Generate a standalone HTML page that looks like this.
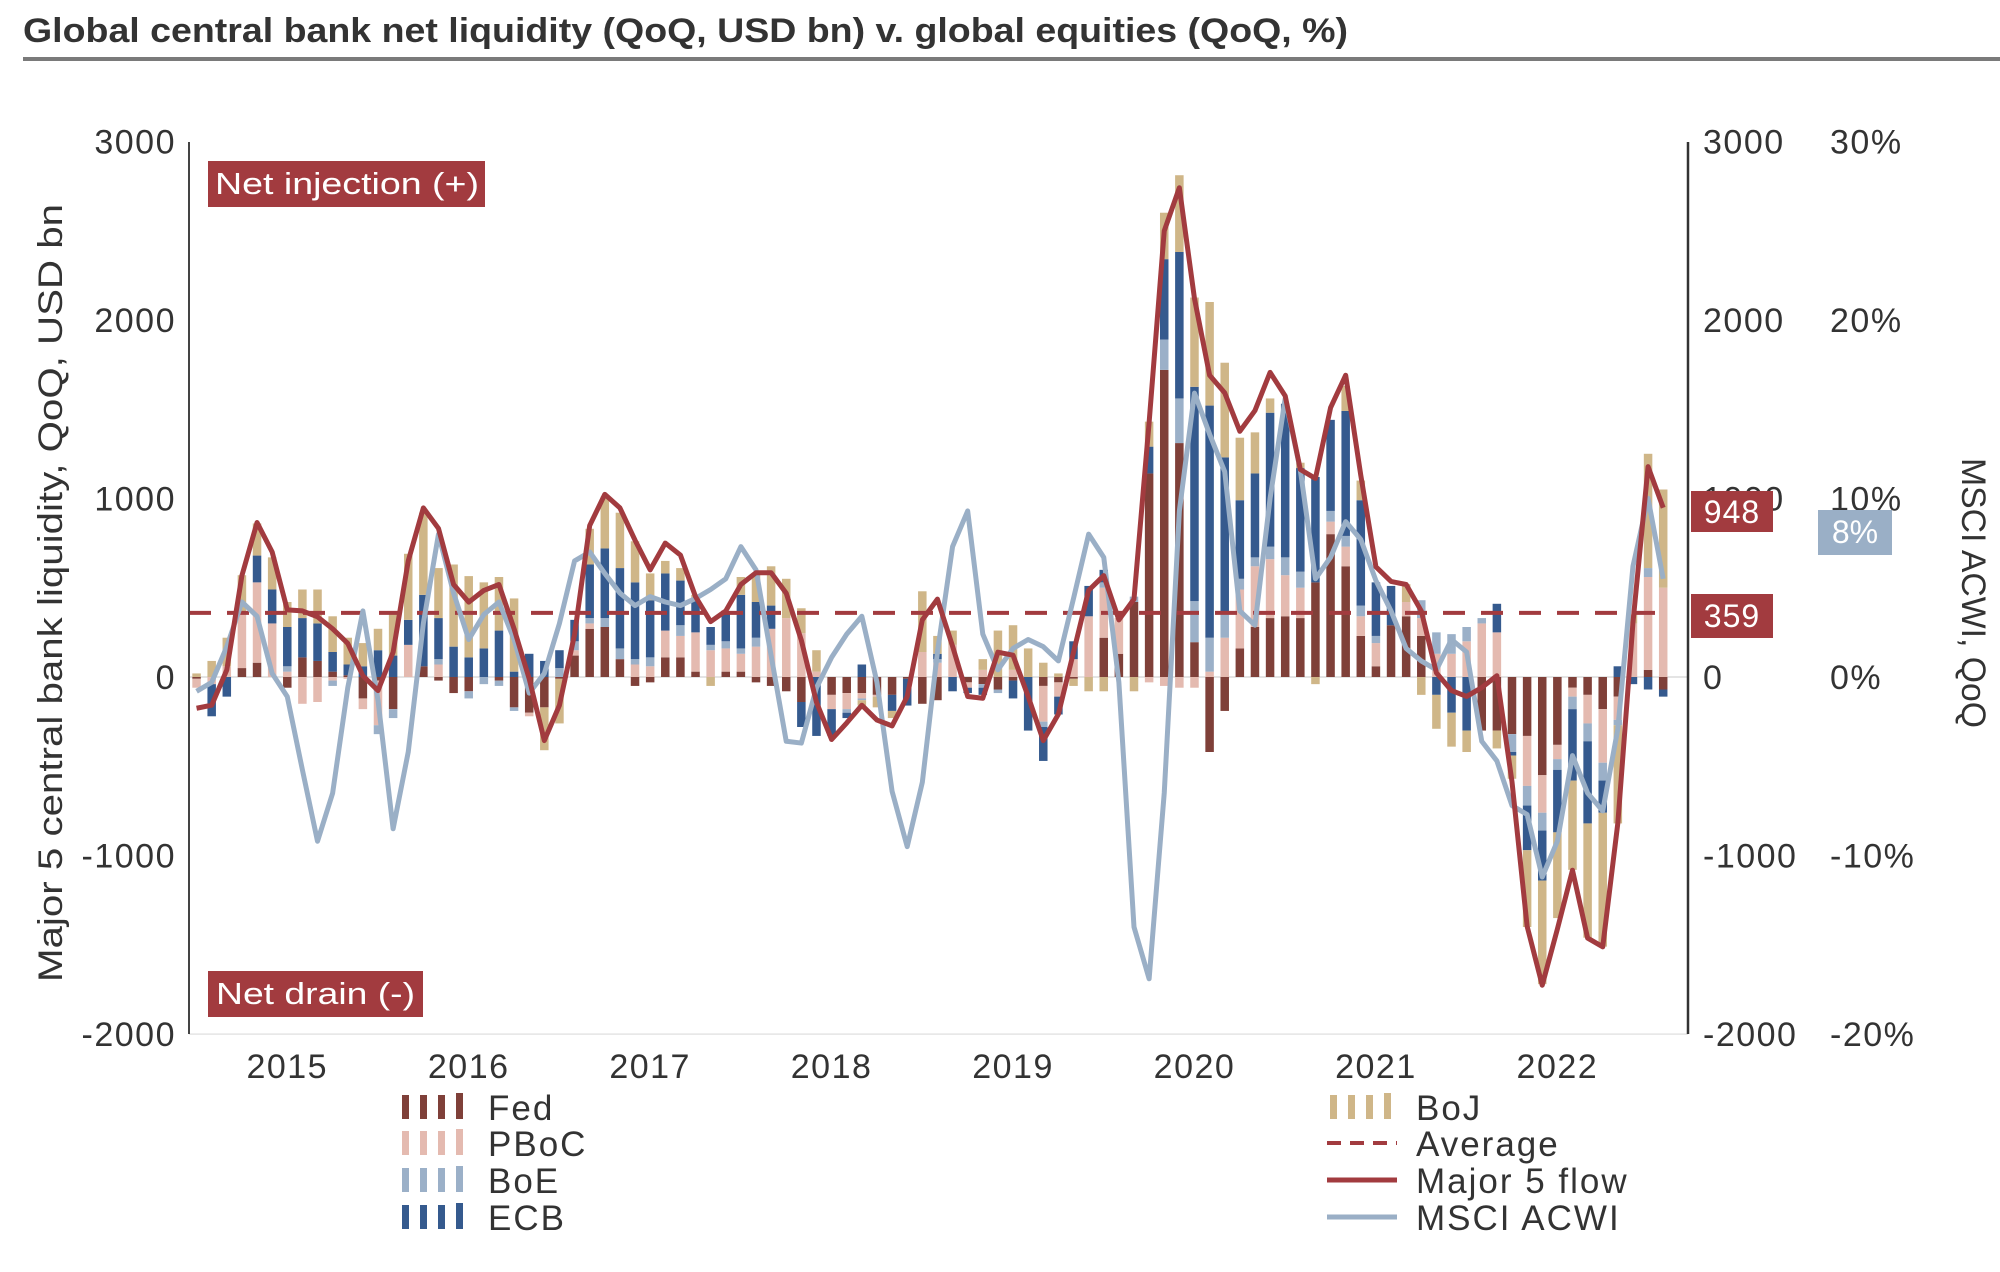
<!DOCTYPE html>
<html><head><meta charset="utf-8"><style>
html,body{margin:0;padding:0;background:#fff;}
svg{display:block;font-family:"Liberation Sans",sans-serif;}
</style></head><body>
<svg id="chart" width="2000" height="1272" viewBox="0 0 2000 1272" xmlns="http://www.w3.org/2000/svg">
<text x="23" y="42" font-size="34" font-weight="bold" fill="#333" textLength="1325" lengthAdjust="spacingAndGlyphs">Global central bank net liquidity (QoQ, USD bn) v. global equities (QoQ, %)</text>
<rect x="23" y="57" width="1977" height="4" fill="#7a7a7a"/>
<g id="plot"></g>
<text transform="translate(62,593) rotate(-90)" text-anchor="middle" font-size="34" fill="#333" textLength="778" lengthAdjust="spacingAndGlyphs">Major 5 central bank liquidity, QoQ, USD bn</text>
<text transform="translate(1962,593) rotate(90)" text-anchor="middle" font-size="34" fill="#333" textLength="270" lengthAdjust="spacingAndGlyphs">MSCI ACWI, QoQ</text>
<rect x="208" y="161" width="277" height="46" fill="#a23b3f"/>
<text x="215" y="194" font-size="31" fill="#fff" textLength="264" lengthAdjust="spacingAndGlyphs">Net injection (+)</text>
<rect x="208" y="971" width="215" height="46" fill="#a23b3f"/>
<text x="216" y="1004" font-size="31" fill="#fff" textLength="199" lengthAdjust="spacingAndGlyphs">Net drain (-)</text>
<rect x="1691" y="491" width="82" height="41" fill="#a23b3f"/>
<text x="1732" y="523" text-anchor="middle" font-size="32" fill="#fff" letter-spacing="1">948</text>
<rect x="1691" y="594" width="82" height="44" fill="#a23b3f"/>
<text x="1732" y="627" text-anchor="middle" font-size="32" fill="#fff" letter-spacing="1">359</text>
<rect x="1818" y="510" width="74" height="45" fill="#9aafc6"/>
<text x="1855" y="543" text-anchor="middle" font-size="32" fill="#fff">8%</text>
<g id="legend"></g>
</svg>
<script>
const fed = [-10,0,0,50,80,0,-60,110,90,30,10,-120,-20,-180,0,60,-20,-90,-80,0,-20,-170,-200,-170,-10,120,270,280,100,-50,-30,110,110,30,0,30,30,-30,-50,-80,-140,0,-100,-90,-90,-100,-100,-10,-150,-130,0,-30,-40,-70,-20,0,-50,-30,-10,0,220,130,420,1140,1720,1310,195,-420,-190,160,280,330,340,330,530,800,620,230,60,290,340,230,0,0,0,-300,-300,-320,-330,-550,-380,-60,-100,-180,-110,0,40,-70];
const pboc = [-50,-40,60,300,450,300,30,-150,-140,-20,-10,-60,-250,0,180,0,70,0,0,0,0,0,-20,0,0,30,30,0,0,70,60,150,120,220,150,130,100,170,270,330,245,30,-80,-90,-30,-10,0,0,140,80,180,-30,40,0,40,0,-200,-80,100,340,280,200,0,-30,-50,-60,-60,30,220,330,340,330,230,170,0,70,110,110,130,0,80,100,130,130,200,300,250,0,-280,-210,-80,-50,-160,-300,-130,300,520,500];
const boe = [0,0,0,0,0,0,30,0,0,-30,0,0,-50,-50,0,0,30,0,-40,-40,-30,-20,0,0,50,50,30,50,60,30,50,0,60,0,30,40,30,50,0,0,0,0,0,-20,-10,0,0,0,0,20,0,0,-20,-20,0,0,-30,0,0,0,30,0,30,0,170,250,230,190,130,60,50,70,100,90,0,60,60,60,40,0,0,100,120,110,80,30,0,-100,-110,-100,-60,-70,-100,-100,-30,0,50,0];
const ecb = [0,-180,-110,0,150,190,220,220,210,110,60,60,150,120,140,400,230,170,110,160,260,30,130,90,100,120,300,390,450,430,320,320,250,180,100,170,300,200,130,0,-140,-330,-150,-30,70,0,-90,-150,0,30,-80,-30,-40,0,-100,-300,-190,-100,100,170,70,0,0,150,450,820,1200,1300,880,440,470,750,860,580,590,510,700,590,300,220,0,0,-100,-200,-300,0,160,-20,-250,-280,-350,-400,-460,-180,60,-40,-70,-40];
const boj = [20,90,160,220,180,180,140,160,190,200,150,130,120,230,370,460,280,460,455,370,300,410,0,-240,-250,0,200,290,310,230,150,70,70,30,-50,0,100,160,220,220,140,120,0,0,-30,-60,-40,0,340,100,80,0,60,260,250,160,80,20,-40,-80,-80,0,-80,140,260,430,500,580,530,350,230,80,0,30,-40,0,140,110,0,0,100,-100,-190,-190,-120,0,-100,-130,-430,-580,-480,-500,-640,-750,-550,50,640,550];
const major5 = [-175,-158,40,568,865,700,376,370,337,270,188,7,-76,139,650,947,832,518,419,485,518,270,-10,-356,-158,238,848,1023,947,766,600,750,683,450,310,370,518,584,584,469,205,-142,-350,-257,-158,-241,-274,-109,320,436,172,-109,-119,139,122,-109,-356,-208,139,485,568,320,436,1426,2498,2740,2119,1690,1591,1376,1492,1706,1574,1162,1112,1508,1690,1129,617,535,518,370,23,-76,-109,-59,7,-587,-1396,-1726,-1412,-1082,-1462,-1511,-818,304,1178,948];
const msci = [-0.8,-0.3,1.7,4.2,3.4,0.2,-1.1,-5.2,-9.2,-6.5,-0.6,3.7,-1.3,-8.5,-4.2,3.0,8.0,4.7,2.1,3.5,4.2,2.1,-0.9,0.2,3.0,6.5,7.0,5.8,4.7,4.0,4.5,4.2,4.0,4.4,4.9,5.5,7.3,6.0,1.2,-3.6,-3.7,-0.6,1.1,2.4,3.4,-0.3,-6.4,-9.5,-5.9,1.4,7.3,9.3,2.4,0.4,1.6,2.1,1.7,0.9,4.4,8.0,6.7,-0.3,-14.0,-16.9,-6.5,9.3,15.9,13.6,11.5,3.7,2.9,10.0,15.6,11.6,5.5,6.7,8.7,7.7,5.4,3.7,1.6,0.9,0.4,2.1,1.4,-3.6,-4.7,-7.2,-7.7,-11.2,-9.2,-4.4,-6.5,-7.5,-2.9,6.2,10.0,5.5];
const average = [359];
const years = ["2015","2016","2017","2018","2019","2020","2021","2022"];
const leftTicks = [3000,2000,1000,0,-1000,-2000];
const rightPctTicks = ["30%","20%","10%","0%","-10%","-20%"];

const NS="http://www.w3.org/2000/svg";
const plot=document.getElementById('plot');
const X0=189,X1=1688,STEP=15.12,Y0=677,PX=0.17857;
function xs(i){return X0+(i+0.5)*STEP;}
function ys(v){return Y0-v*PX;}
function yp(p){return ys(p*100);}
function mk(tag,attrs,parent){const e=document.createElementNS(NS,tag);for(const k in attrs)e.setAttribute(k,attrs[k]);(parent||plot).appendChild(e);return e;}

leftTicks.forEach((t,k)=>{
  const e=mk('text',{x:176,y:ys(t)+12,'text-anchor':'end','font-size':34,'letter-spacing':1.5,fill:'#333'});
  e.textContent=String(t);
  
  
  const r=mk('text',{x:1703,y:ys(t)+12,'font-size':34,'letter-spacing':1.5,fill:'#333'});
  r.textContent=String(t);
  
  
  const p=mk('text',{x:1830,y:ys(t)+12,'font-size':34,'letter-spacing':1.5,fill:'#333'});
  p.textContent=rightPctTicks[k];
  
  
});
years.forEach((y,k)=>{
  const idx=(+y-2014)*12-6;
  const e=mk('text',{x:xs(idx),y:1078,'text-anchor':'middle','font-size':34,'letter-spacing':1.5,fill:'#333'});
  e.textContent=y;
  
  
});
let zl=mk('line',{x1:X0,x2:X1,y1:ys(0),y2:ys(0),stroke:'#dcdcdc','stroke-width':1.5});


let bl=mk('line',{x1:X0,x2:X1,y1:ys(-2000),y2:ys(-2000),stroke:'#e4e4e4','stroke-width':1.5});



const series=[['fed',fed,'#7f4039'],['pboc',pboc,'#e4bab0'],['boe',boe,'#9bb0c8'],['ecb',ecb,'#355a8e'],['boj',boj,'#cfb688']];
const BW=8.5;
for(let i=0;i<fed.length;i++){
  let pos=0,neg=0;
  series.forEach(([nm,arr,col])=>{
    const v=arr[i]; if(!v) return;
    let a,b;
    if(v>0){a=pos;b=pos+v;pos=b;} else {a=neg;b=neg+v;neg=b;}
    const yt=Math.min(ys(a),ys(b)),h=Math.abs(ys(a)-ys(b));
    const r=mk('rect',{x:xs(i)-BW/2,y:yt,width:BW,height:h,fill:col});
    
    
  });
}
let av=mk('line',{x1:X0,x2:1665,y1:ys(average[0]),y2:ys(average[0]),stroke:'#a23b3f','stroke-width':4,'stroke-dasharray':'22 16'});


let ptsM=msci.map((v,i)=>xs(i)+','+yp(v)).join(' ');
let lm=mk('polyline',{points:ptsM,fill:'none',stroke:'#9aafc6','stroke-width':5,'stroke-linejoin':'round'});


let ptsR=major5.map((v,i)=>xs(i)+','+ys(v)).join(' ');
let lr=mk('polyline',{points:ptsR,fill:'none',stroke:'#a23b3f','stroke-width':5,'stroke-linejoin':'round'});


let la=mk('line',{x1:X0,x2:X0,y1:142,y2:1034,stroke:'#444','stroke-width':2});


let ra=mk('line',{x1:X1,x2:X1,y1:142,y2:1034,stroke:'#333','stroke-width':2.5});



const lg=document.getElementById('legend');
const leftItems=[['Fed','#7f4039',1117],['PBoC','#e4bab0',1153],['BoE','#9bb0c8',1190],['ECB','#355a8e',1227]];
function barIcon(x,y,col,name){
  const g=mk('g',{},lg);
  
  
  for(let k=0;k<4;k++){mk('rect',{x:x+k*18,y:y-24+(k==3?-2:0),width:7,height:24+(k==3?2:0),fill:col},g);}
}
leftItems.forEach(([t,c,y])=>{
  barIcon(402,y+2,c,'legend-icon-'+t.toLowerCase());
  const e=mk('text',{x:488,y:y+3,'font-size':35,'letter-spacing':2,fill:'#333'},lg);
  e.textContent=t;
  
  
});
barIcon(1330,1119,'#cfb688','legend-icon-boj');
const rightItems=[['BoJ',1117],['Average',1153],['Major 5 flow',1190],['MSCI ACWI',1227]];
rightItems.forEach(([t,y])=>{
  const e=mk('text',{x:1416,y:y+3,'font-size':35,'letter-spacing':2,fill:'#333'},lg);
  e.textContent=t;
  
  
});
let l1=mk('line',{x1:1327,x2:1397,y1:1143,y2:1143,stroke:'#a23b3f','stroke-width':4,'stroke-dasharray':'14 9'},lg);


let l2=mk('line',{x1:1327,x2:1397,y1:1180,y2:1180,stroke:'#a23b3f','stroke-width':5},lg);


let l3=mk('line',{x1:1327,x2:1397,y1:1217,y2:1217,stroke:'#9aafc6','stroke-width':5},lg);


</script>
</body></html>
